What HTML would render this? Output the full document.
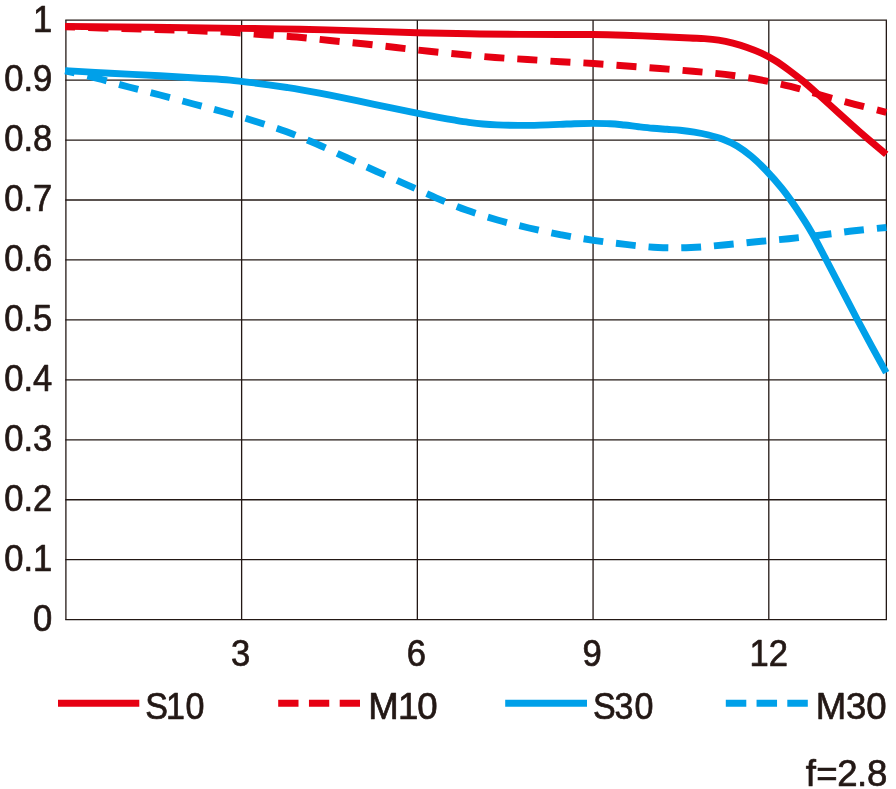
<!DOCTYPE html>
<html lang="en">
<head>
<meta charset="utf-8">
<title>MTF chart f=2.8</title>
<style>
html,body{margin:0;padding:0;background:#fff;}
body{width:896px;height:789px;overflow:hidden;}
svg{display:block;}
text{font-family:"Liberation Sans",sans-serif;font-size:36.6px;fill:#231815;stroke:#231815;stroke-width:0.7px;stroke-linejoin:round;}
</style>
</head>
<body>
<svg width="896" height="789" viewBox="0 0 896 789">
<rect width="896" height="789" fill="#fff"/>
<g stroke="#231815" stroke-width="1.3" fill="none" stroke-linecap="butt">
<line x1="65.25" y1="20.15" x2="887.00" y2="20.15"/>
<line x1="65.25" y1="80.10" x2="887.00" y2="80.10"/>
<line x1="65.25" y1="140.05" x2="887.00" y2="140.05"/>
<line x1="65.25" y1="200.00" x2="887.00" y2="200.00"/>
<line x1="65.25" y1="259.95" x2="887.00" y2="259.95"/>
<line x1="65.25" y1="319.90" x2="887.00" y2="319.90"/>
<line x1="65.25" y1="379.85" x2="887.00" y2="379.85"/>
<line x1="65.25" y1="439.80" x2="887.00" y2="439.80"/>
<line x1="65.25" y1="499.75" x2="887.00" y2="499.75"/>
<line x1="65.25" y1="559.70" x2="887.00" y2="559.70"/>
<line x1="65.25" y1="619.65" x2="887.00" y2="619.65"/>
<line x1="65.90" y1="20.15" x2="65.90" y2="619.65"/>
<line x1="241.62" y1="20.15" x2="241.62" y2="619.65"/>
<line x1="417.35" y1="20.15" x2="417.35" y2="619.65"/>
<line x1="593.07" y1="20.15" x2="593.07" y2="619.65"/>
<line x1="768.80" y1="20.15" x2="768.80" y2="619.65"/>
<line x1="886.35" y1="20.15" x2="886.35" y2="619.65"/>
</g>
<g fill="none" stroke-width="6.9" stroke-linecap="butt" stroke-linejoin="round">
<path stroke="#00a0e9" stroke-dasharray="19.842 12.897" stroke-dashoffset="9.921" d="M65.20 70.80C70.58 72.07 86.91 75.70 97.50 78.40C108.09 81.10 118.33 84.23 128.75 87.00C139.17 89.77 149.38 92.21 160.00 95.00C170.62 97.79 181.88 100.92 192.50 103.75C203.12 106.58 213.33 109.08 223.75 112.00C234.17 114.92 244.62 117.98 255.00 121.25C265.38 124.52 275.79 127.85 286.00 131.60C296.21 135.35 306.21 139.43 316.25 143.75C326.29 148.07 336.25 152.92 346.25 157.50C356.25 162.08 366.12 166.70 376.25 171.25C386.38 175.80 397.04 180.38 407.00 184.80C416.96 189.23 426.12 193.58 436.00 197.80C445.88 202.02 456.00 206.40 466.25 210.10C476.50 213.80 487.04 217.02 497.50 220.00C507.96 222.98 518.38 225.53 529.00 228.00C539.62 230.47 550.50 232.75 561.25 234.80C572.00 236.85 582.79 238.70 593.50 240.30C604.21 241.90 614.75 243.20 625.50 244.40C636.25 245.60 647.08 246.98 658.00 247.50C668.92 248.02 680.08 247.92 691.00 247.50C701.92 247.08 712.62 245.96 723.50 245.00C734.38 244.04 745.38 242.79 756.25 241.75C767.12 240.71 777.83 239.88 788.75 238.75C799.67 237.62 810.83 236.33 821.75 235.00C832.67 233.67 843.46 232.00 854.25 230.75C865.04 229.50 881.12 228.04 886.50 227.50"/>
<path stroke="#00a0e9" d="M65.20 70.60C72.67 71.03 94.20 72.33 110.00 73.20C125.80 74.07 145.00 74.97 160.00 75.80C175.00 76.63 188.33 77.48 200.00 78.20C211.67 78.92 220.23 79.20 230.00 80.10C239.77 81.00 249.08 82.37 258.60 83.60C268.12 84.83 279.97 86.47 287.10 87.50C294.23 88.53 294.25 88.52 301.40 89.80C308.55 91.08 320.57 93.35 330.00 95.20C339.43 97.05 347.58 98.75 358.00 100.90C368.42 103.05 382.67 106.07 392.50 108.10C402.33 110.13 409.08 111.52 417.00 113.10C424.92 114.68 433.67 116.42 440.00 117.60C446.33 118.78 450.23 119.42 455.00 120.20C459.77 120.98 463.93 121.67 468.60 122.30C473.27 122.93 478.27 123.57 483.00 124.00C487.73 124.43 491.07 124.67 497.00 124.90C502.93 125.13 511.43 125.37 518.60 125.40C525.77 125.43 533.10 125.27 540.00 125.10C546.90 124.93 554.28 124.63 560.00 124.40C565.72 124.17 568.82 123.87 574.30 123.70C579.78 123.53 586.95 123.40 592.90 123.40C598.85 123.40 604.77 123.43 610.00 123.70C615.23 123.97 619.53 124.50 624.30 125.00C629.07 125.50 633.83 126.17 638.60 126.70C643.37 127.23 648.15 127.77 652.90 128.20C657.65 128.63 662.58 128.95 667.10 129.30C671.62 129.65 675.47 129.83 680.00 130.30C684.53 130.77 689.53 131.32 694.30 132.10C699.07 132.88 703.83 133.80 708.60 135.00C713.37 136.20 718.15 137.47 722.90 139.30C727.65 141.13 732.35 143.15 737.10 146.00C741.85 148.85 746.63 152.40 751.40 156.40C756.17 160.40 760.60 164.65 765.70 170.00C770.80 175.35 776.87 182.08 782.00 188.50C787.13 194.92 791.52 201.10 796.50 208.50C801.48 215.90 806.93 224.32 811.90 232.90C816.87 241.48 821.30 250.48 826.30 260.00C831.30 269.52 836.73 280.08 841.90 290.00C847.07 299.92 852.23 309.95 857.30 319.50C862.37 329.05 867.48 338.43 872.30 347.30C877.12 356.17 883.88 368.47 886.20 372.70"/>
<path stroke="#e60012" stroke-dasharray="20.067 13.043" stroke-dashoffset="10.033" d="M65.20 26.80C76.33 27.15 115.37 28.42 132.00 28.90C148.63 29.38 154.00 29.38 165.00 29.70C176.00 30.02 187.00 30.35 198.00 30.80C209.00 31.25 220.00 31.74 231.00 32.40C242.00 33.06 253.00 33.98 264.00 34.75C275.00 35.52 286.00 36.04 297.00 37.00C308.00 37.96 319.00 39.38 330.00 40.50C341.00 41.62 352.00 42.58 363.00 43.75C374.00 44.92 385.00 46.25 396.00 47.50C407.00 48.75 418.00 50.08 429.00 51.25C440.00 52.42 451.00 53.46 462.00 54.50C473.00 55.54 484.08 56.67 495.00 57.50C505.92 58.33 516.54 58.79 527.50 59.50C538.46 60.21 549.75 61.08 560.75 61.75C571.75 62.42 582.50 62.79 593.50 63.50C604.50 64.21 615.67 65.17 626.75 66.00C637.83 66.83 648.96 67.62 660.00 68.50C671.04 69.38 682.17 70.32 693.00 71.30C703.83 72.28 714.10 73.03 725.00 74.40C735.90 75.77 747.48 77.50 758.40 79.50C769.32 81.50 779.80 83.72 790.50 86.40C801.20 89.08 811.88 92.62 822.60 95.60C833.32 98.58 844.17 101.52 854.80 104.30C865.43 107.08 881.13 110.97 886.40 112.30"/>
<path stroke="#e60012" d="M65.20 26.40C79.33 26.55 120.58 26.97 150.00 27.30C179.43 27.63 216.75 28.08 241.75 28.40C266.75 28.72 280.29 28.78 300.00 29.20C319.71 29.62 340.50 30.32 360.00 30.90C379.50 31.48 398.67 32.22 417.00 32.70C435.33 33.18 452.83 33.52 470.00 33.80C487.17 34.08 505.00 34.28 520.00 34.40C535.00 34.52 547.83 34.48 560.00 34.50C572.17 34.52 582.17 34.38 593.00 34.50C603.83 34.62 613.42 34.88 625.00 35.25C636.58 35.62 651.67 36.29 662.50 36.75C673.33 37.21 683.03 37.69 690.00 38.00C696.97 38.31 699.53 38.25 704.30 38.60C709.07 38.95 713.83 39.35 718.60 40.10C723.37 40.85 728.15 41.88 732.90 43.10C737.65 44.32 742.35 45.73 747.10 47.40C751.85 49.07 756.75 50.92 761.40 53.10C766.05 55.28 770.40 57.65 775.00 60.50C779.60 63.35 784.25 66.70 789.00 70.20C793.75 73.70 798.67 77.48 803.50 81.50C808.33 85.52 812.02 88.95 818.00 94.30C823.98 99.65 832.40 107.30 839.40 113.60C846.40 119.90 852.20 125.32 860.00 132.10C867.80 138.88 881.83 150.60 886.20 154.30"/>
</g>
<text transform="translate(52.30 31.50) scale(0.945 1)" text-anchor="end">1</text>
<text transform="translate(52.30 91.45) scale(0.945 1)" text-anchor="end">0.9</text>
<text transform="translate(52.30 151.40) scale(0.945 1)" text-anchor="end">0.8</text>
<text transform="translate(52.30 211.35) scale(0.945 1)" text-anchor="end">0.7</text>
<text transform="translate(52.30 271.30) scale(0.945 1)" text-anchor="end">0.6</text>
<text transform="translate(52.30 331.25) scale(0.945 1)" text-anchor="end">0.5</text>
<text transform="translate(52.30 391.20) scale(0.945 1)" text-anchor="end">0.4</text>
<text transform="translate(52.30 451.15) scale(0.945 1)" text-anchor="end">0.3</text>
<text transform="translate(52.30 511.10) scale(0.945 1)" text-anchor="end">0.2</text>
<text transform="translate(52.30 571.05) scale(0.945 1)" text-anchor="end">0.1</text>
<text transform="translate(52.30 631.00) scale(0.945 1)" text-anchor="end">0</text>
<text transform="translate(240.72 666.40) scale(0.945 1)" text-anchor="middle">3</text>
<text transform="translate(416.45 666.40) scale(0.945 1)" text-anchor="middle">6</text>
<text transform="translate(592.17 666.40) scale(0.945 1)" text-anchor="middle">9</text>
<text transform="translate(768.80 666.40) scale(0.945 1)" text-anchor="middle">12</text>
<g fill="none" stroke-width="7">
<line x1="58" y1="703.3" x2="139.3" y2="703.3" stroke="#e60012"/>
<line x1="278.2" y1="703.3" x2="360" y2="703.3" stroke="#e60012" stroke-dasharray="20.3 10.45"/>
<line x1="505.2" y1="703.3" x2="587" y2="703.3" stroke="#00a0e9"/>
<line x1="725.8" y1="703.3" x2="807.8" y2="703.3" stroke="#00a0e9" stroke-dasharray="20.5 10.25"/>
</g>
<text transform="scale(0.930 1)" x="156.19 178.57 199.50" y="719.30">S10</text>
<text x="368.16 397.92 417.32" y="719.30">M10</text>
<text transform="scale(0.930 1)" x="637.59 660.63 682.29" y="719.30">S30</text>
<text x="815.86 846.03 866.22" y="719.30">M30</text>
<text x="805.73 816.32 837.22 857.02 866.92" y="786.40">f=2.8</text>
</svg>
</body>
</html>
